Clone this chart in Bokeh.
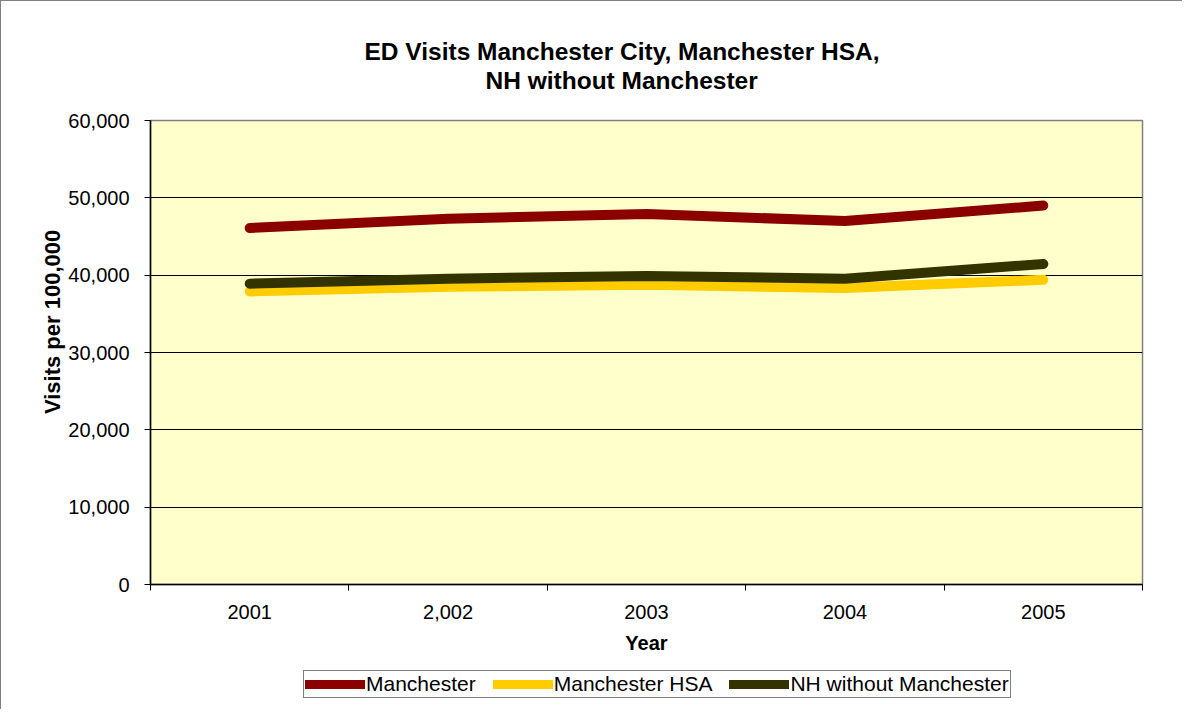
from bokeh.plotting import figure
from bokeh.models import FixedTicker, NumeralTickFormatter, Legend, LegendItem, Range1d, Title
from bokeh.layouts import column
from bokeh.embed import file_html
from bokeh.resources import INLINE

years = [2001, 2002, 2003, 2004, 2005]
year_labels = ["2001", "2,002", "2003", "2004", "2005"]
manchester = [46100, 47300, 47900, 47000, 49000]
manchester_hsa = [37900, 38500, 38750, 38350, 39400]
nh_without = [38900, 39550, 39900, 39550, 41450]
y_ticks = [0, 10000, 20000, 30000, 40000, 50000, 60000]
title_lines = ["ED Visits Manchester City, Manchester HSA,", "NH without Manchester"]
series_names = ["Manchester", "Manchester HSA", "NH without Manchester"]
series_colors = ["#8B0000", "#FFCC00", "#333300"]

FONT = "Liberation Sans"

p = figure(width=1182, height=662, output_backend="svg", toolbar_location=None,
           x_range=Range1d(2000.5, 2005.5), y_range=Range1d(0, 60000),
           min_border_left=149, min_border_right=41, min_border_top=119, min_border_bottom=79)
p.styles = {"border-left": "1px solid #808080", "border-top": "1px solid #808080"}

# spacer, then the two title lines (the one added first sits closest to the frame)
spacer = Title(text=" ", text_font_size="1px", standoff=24)
t2 = Title(text=title_lines[1], text_font=FONT, text_font_size="24.5px", text_font_style="bold",
           text_color="black", align="left", offset=335, standoff=0, vertical_align="bottom")
t1 = Title(text=title_lines[0], text_font=FONT, text_font_size="24.5px", text_font_style="bold",
           text_color="black", align="left", offset=214, standoff=0, vertical_align="bottom")
p.add_layout(spacer, "above")
p.add_layout(t2, "above")
p.add_layout(t1, "above")

p.background_fill_color = "#FFFFCC"
p.border_fill_color = "white"
p.outline_line_color = "#808080"
p.outline_line_width = 1.5

p.xgrid.grid_line_color = None
p.ygrid.grid_line_color = "black"
p.ygrid.grid_line_width = 1
p.ygrid.ticker = FixedTicker(ticks=y_ticks)

xa = p.xaxis[0]
xa.ticker = FixedTicker(ticks=years, minor_ticks=[2000.5, 2001.5, 2002.5, 2003.5, 2004.5, 2005.5])
xa.major_label_overrides = {y: l for y, l in zip(years, year_labels)}
xa.major_tick_out = 0
xa.major_tick_in = 0
xa.minor_tick_out = 6
xa.minor_tick_in = 0
xa.minor_tick_line_color = "black"
xa.axis_line_color = "black"
xa.axis_line_width = 1.5
xa.major_label_standoff = 14
xa.major_label_text_font = FONT
xa.major_label_text_font_size = "20px"
xa.major_label_text_color = "black"
xa.axis_label = "Year"
xa.axis_label_text_font = FONT
xa.axis_label_text_font_size = "20px"
xa.axis_label_text_font_style = "bold"
xa.axis_label_text_color = "black"
xa.axis_label_standoff = 10

ya = p.yaxis[0]
ya.ticker = FixedTicker(ticks=y_ticks)
ya.formatter = NumeralTickFormatter(format="0,0")
ya.major_tick_out = 6
ya.major_tick_in = 0
ya.minor_tick_out = 0
ya.minor_tick_in = 0
ya.major_tick_line_color = "black"
ya.axis_line_color = "black"
ya.axis_line_width = 1.5
ya.major_label_standoff = 15
ya.major_label_text_font = FONT
ya.major_label_text_font_size = "20px"
ya.major_label_text_color = "black"
# leading no-break spaces nudge the rotated label upward, as in the reference
ya.axis_label = "\u00a0" * 10 + "Visits per 100,000"
ya.axis_label_text_font = FONT
ya.axis_label_text_font_size = "22px"
ya.axis_label_text_font_style = "bold"
ya.axis_label_text_color = "black"
ya.axis_label_standoff = 0

series = [manchester, manchester_hsa, nh_without]
rs = [p.line(years, s, line_color=c, line_width=10, line_cap="round", line_join="round")
      for s, c in zip(series, series_colors)]
p.renderers = [rs[1], rs[2], rs[0]]

# legend strip below the chart: a second, axis-less figure whose lines fall outside its ranges
lf = figure(width=1182, height=47, output_backend="svg", toolbar_location=None,
            x_range=Range1d(0, 1), y_range=Range1d(0, 1),
            x_axis_location=None, y_axis_location=None,
            min_border_left=0, min_border_right=0, min_border_top=0, min_border_bottom=0)
lf.styles = {"border-left": "1px solid #808080"}
lf.outline_line_color = None
lf.background_fill_color = "white"
lf.border_fill_color = "white"
lf.xgrid.grid_line_color = None
lf.ygrid.grid_line_color = None
lrs = [lf.line(years, s, line_color=c, line_width=9, line_cap="round")
       for s, c in zip(series, series_colors)]

legend = Legend(items=[LegendItem(label=n, renderers=[r]) for n, r in zip(series_names, lrs)],
                orientation="horizontal", location=(153, 11),
                glyph_width=60, glyph_height=18, label_height=18, label_width=10,
                label_standoff=1, spacing=17, padding=1, margin=0,
                label_text_font=FONT, label_text_font_size="21px", label_text_color="black",
                border_line_color="black", border_line_width=1,
                background_fill_color="white", background_fill_alpha=1)
lf.add_layout(legend, "center")

layout = column(p, lf, spacing=0)
open("out.html", "w").write(file_html(layout, INLINE))
